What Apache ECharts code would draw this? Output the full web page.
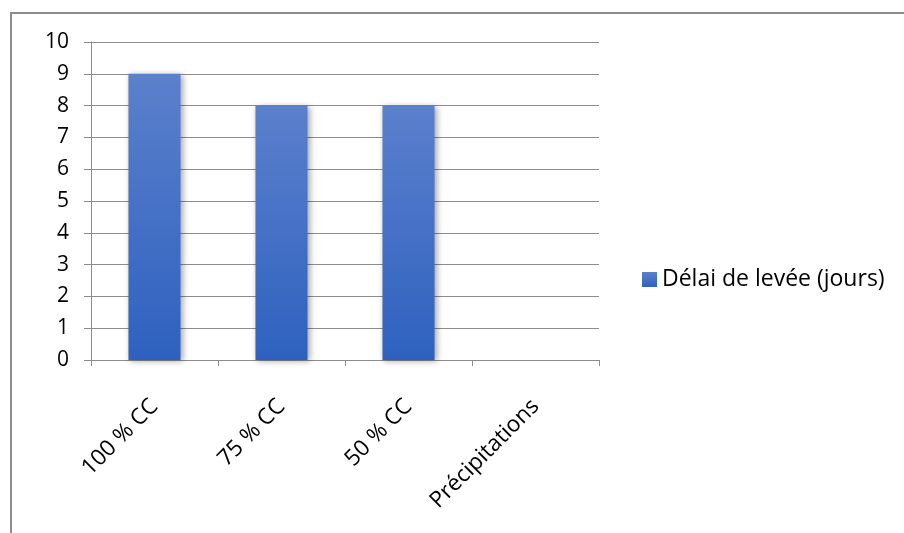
<!DOCTYPE html>
<html>
<head>
<meta charset="utf-8">
<script src="https://cdn.jsdelivr.net/npm/echarts@6/dist/echarts.min.js"></script>
<style>
  html, body { margin: 0; padding: 0; background: #fff; }
  #frame { position: absolute; left: 10px; top: 12px; width: 900px; height: 530px;
           border-top: 2px solid #8c8c8c; border-left: 2px solid #8c8c8c; box-sizing: border-box; }
  #chart { position: absolute; left: 0; top: 0; width: 904px; height: 533px; }
</style>
</head>
<body>
<div id="frame"></div>
<div id="chart"></div>
<script>
const categories = ['100 % CC', '75 % CC', '50 % CC', 'Précipitations'];
const seriesName = 'Délai de levée (jours)';
const values = [9, 8, 8, null];
const yMin = 0, yMax = 10, yInterval = 1;

const FONT = '"Open Sans", sans-serif';
const chart = echarts.init(document.getElementById('chart'), null, { renderer: 'canvas' });
chart.setOption({
  backgroundColor: 'transparent',
  animation: false,
  grid: { left: 91, right: 305, top: 42, bottom: 173, containLabel: false },
  legend: {
    data: [seriesName],
    orient: 'vertical',
    left: 637, top: 263,
    itemWidth: 15, itemHeight: 15, itemGap: 6,
    icon: 'rect',
    textStyle: { fontFamily: FONT, fontSize: 23, color: '#000' }
  },
  xAxis: {
    type: 'category',
    data: categories,
    boundaryGap: true,
    axisLine: { lineStyle: { color: '#8c8c8c', width: 1 } },
    axisTick: { show: true, length: 6, alignWithLabel: false, lineStyle: { color: '#8c8c8c' } },
    axisLabel: { rotate: 45, margin: 43, fontFamily: FONT, fontSize: 22.5, color: '#000', interval: 0 }
  },
  yAxis: {
    type: 'value',
    min: yMin, max: yMax, interval: yInterval,
    axisLine: { show: true, lineStyle: { color: '#8c8c8c', width: 1 } },
    axisTick: { show: true, length: 7, inside: false, lineStyle: { color: '#8c8c8c' } },
    splitLine: { show: true, lineStyle: { color: '#8c8c8c', width: 1 } },
    axisLabel: { margin: 22, fontFamily: FONT, fontSize: 21, color: '#000' }
  },
  series: [{
    name: seriesName,
    type: 'bar',
    data: values,
    barWidth: '41%',
    itemStyle: {
      color: new echarts.graphic.LinearGradient(0, 0, 0, 1, [
        { offset: 0, color: '#5b80cc' },
        { offset: 1, color: '#2e61bf' }
      ]),
      shadowColor: 'rgba(0,0,0,0.35)',
      shadowBlur: 6,
      shadowOffsetX: 2,
      shadowOffsetY: 1
    }
  }]
});
</script>
</body>
</html>
